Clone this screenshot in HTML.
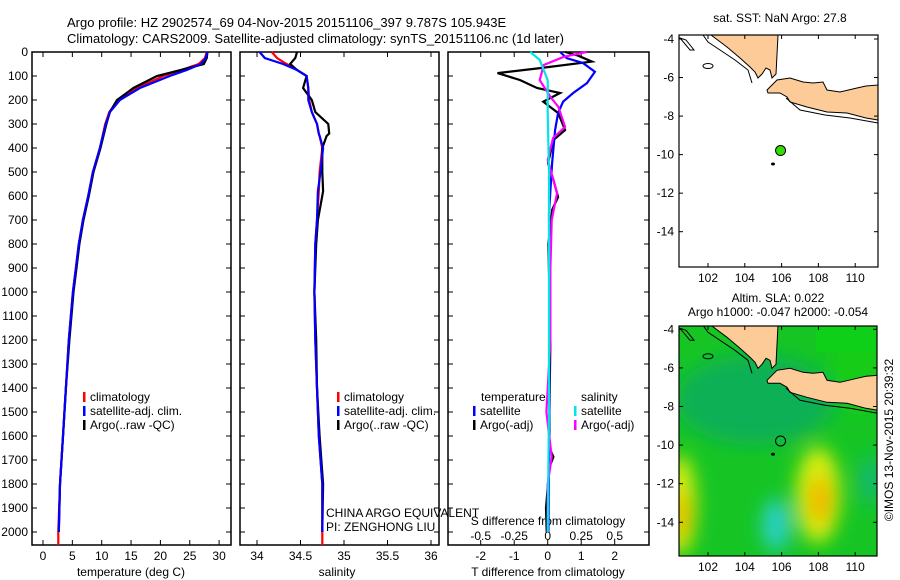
<!DOCTYPE html>
<html><head><meta charset="utf-8"><style>
html,body{margin:0;padding:0;background:#fff;}
svg{display:block;font-family:"Liberation Sans",sans-serif;}
</style></head><body>
<svg id="fig" width="900" height="580" viewBox="0 0 900 580" xmlns="http://www.w3.org/2000/svg">
<defs>
<filter id="blur" x="-50%" y="-50%" width="200%" height="200%"><feGaussianBlur stdDeviation="9"/></filter>
<clipPath id="clipMap2"><rect x="679" y="326" width="198" height="230"/></clipPath>
<clipPath id="clipMap1"><rect x="679" y="35" width="199" height="232"/></clipPath>
</defs>
<text x="67" y="27" font-size="13">Argo profile: HZ 2902574_69 04-Nov-2015 20151106_397 9.787S 105.943E</text>
<text x="67" y="43" font-size="13">Climatology: CARS2009. Satellite-adjusted climatology: synTS_20151106.nc (1d later)</text>
<g id="g"></g>
</svg>
<script>
// ---------- data ----------
const tDepth = [0,25,50,75,100,150,200,250,300,400,500,600,700,800,900,1000,1200,1400,1600,1800,2000];
const tClim  = [27.9,27.6,26.5,23.6,20.5,16.0,12.9,11.3,10.6,9.7,8.5,7.7,6.8,6.1,5.6,5.1,4.4,3.9,3.4,2.9,2.6];
const tSat   = [28.0,27.7,26.9,24.5,21.6,16.5,13.1,11.4,10.7,9.7,8.5,7.7,6.8,6.1,5.6,5.1,4.4,3.9,3.4,2.9,2.7];
const tArgo  = [28.0,27.9,27.4,23.5,19.4,15.4,12.6,11.4,10.8,9.8,8.6,7.8,6.9,6.2,5.7,5.2,4.5,3.9,3.4,2.9,2.7];
const tClimDeep = 2054;
const sDepth = [0,25,50,75,100,150,200,250,300,340,350,400,500,580,700,800,1000,1200,1400,1600,1800,2000];
const sClim  = [34.17,34.23,34.34,34.46,34.57,34.59,34.60,34.63,34.69,34.71,34.72,34.75,34.72,34.71,34.69,34.67,34.66,34.67,34.69,34.71,34.75,34.75];
const sSat   = [34.03,34.09,34.30,34.46,34.57,34.59,34.59,34.63,34.69,34.71,34.72,34.76,34.73,34.70,34.69,34.67,34.66,34.67,34.69,34.71,34.75,34.75];
const sArgo  = [34.46,34.44,34.38,34.46,34.57,34.53,34.63,34.67,34.82,34.83,34.80,34.75,34.75,34.76,34.70,34.68,34.66,34.68,34.69,34.72,34.76,34.75];
const dtSatDepth = [0,26,46,82,130,171,207,254,325,463,671,1000,1500,2000];
const dtSat      = [0.37,0.57,1.05,1.41,1.17,0.76,0.46,0.31,0.22,0.13,0.04,0.05,0.05,0.02];
const dtArgoDepth = [0,15,40,67,88,117,150,171,207,254,325,367,463,533,604,658,800,1000,1200,1500,1650,1687,1730,1900,2000];
const dtArgo      = [0.52,0.9,1.32,-0.23,-1.5,-0.82,-0.32,0.37,-0.13,0.31,0.52,0.17,0.01,0.17,0.31,0.13,0.02,0.05,0.08,0.05,0.05,0.17,0.05,-0.05,-0.03];
const dsArgoDepth = [0,20,54,117,187,229,312,358,450,588,700,900,1200,1500,1687,1800,2000];
const dsArgo      = [0.29,0.12,-0.03,-0.06,0.02,0.08,0.13,0.04,0.0,0.07,0.03,0.02,0.02,-0.01,0.03,0.0,0.0];
const dsSatDepth = [0,33,117,250,500,1000,1500,2000];
const dsSat      = [-0.13,-0.06,0.0,0.0,0.01,0.01,0.01,0.0];
const depthTicks = [0,100,200,300,400,500,600,700,800,900,1000,1100,1200,1300,1400,1500,1600,1700,1800,1900,2000];
const tTicks = [0,5,10,15,20,25,30];
const sTicks = [34,34.5,35,35.5,36];
const dTTicks = [-2,-1,0,1,2];
const dSTicks = [-0.5,-0.25,0,0.25,0.5];
const latTicks = [-4,-6,-8,-10,-12,-14];
const lonTicks = [102,104,106,108,110];
const argoLon = 105.943, argoLat = -9.787;

// ---------- helpers ----------
const NS="http://www.w3.org/2000/svg";
const G=document.getElementById('g');
function el(tag,attrs,parent){const e=document.createElementNS(NS,tag);for(const k in attrs)e.setAttribute(k,attrs[k]);(parent||G).appendChild(e);return e;}
function txt(x,y,s,anchor,size,parent){const t=el('text',{x:x,y:y,'font-size':size||12,'text-anchor':anchor||'start'},parent);t.textContent=s;return t;}
const TOP=52, BOT=545;
const yD = d => 52 + d*0.24;
const xT = v => 43 + v*5.87;
const xS = v => 257 + (v-34)*87;
const xDT = v => 547.7 + v*33.5;
const xDS = v => 547.7 + v*134;
const lonX = l => 708 + (l-102)*18.4;
const latY1 = a => 39 + (-4-a)*19.27;
const latY2 = a => 329.3 + (-4-a)*19.3;

function panel(x0,x1,name){
  const r=el('rect',{x:x0,y:TOP,width:x1-x0,height:BOT-TOP,fill:'none',stroke:'#000','stroke-width':1.5});
  
  
  depthTicks.forEach(d=>{
    el('line',{x1:x0,x2:x0+5,y1:yD(d),y2:yD(d),stroke:'#000'});
    el('line',{x1:x1-5,x2:x1,y1:yD(d),y2:yD(d),stroke:'#000'});
  });
}
function xticks(vals,fx,x0,x1,labelY,labels){
  vals.forEach((v,i)=>{
    const x=fx(v);
    el('line',{x1:x,x2:x,y1:TOP,y2:TOP+5,stroke:'#000'});
    el('line',{x1:x,x2:x,y1:BOT-5,y2:BOT,stroke:'#000'});
    if(labelY){const t=txt(x,labelY,labels?labels[i]:String(v),'middle',12);
      
      }
  });
}
function line(depths,vals,fx,color,name,w){
  const pts=depths.map((d,i)=>fx(vals[i]).toFixed(1)+','+yD(d).toFixed(1)).join(' ');
  const p=el('polyline',{points:pts,fill:'none',stroke:color,'stroke-width':w||2.2,'stroke-linejoin':'miter'});
  
  
}
function legend(x,y,color,label){
  el('rect',{x:x,y:y-9,width:2.5,height:10,fill:color});
  const t=txt(x+7,y,label,'start',12);
  
  
}

// ---------- panel 1: temperature ----------
panel(32,231,'temperature-panel');
depthTicks.forEach(d=>{const t=txt(28,yD(d)+4,String(d),'end',12);
  
  });
xticks(tTicks,xT,32,231,560);
let t1=txt(131,576,'temperature (deg C)','middle',12);


line(tDepth.concat([tClimDeep]),tClim.concat([tClim[tClim.length-1]]),xT,'#ff0000','temperature-climatology-line');
line(tDepth,tArgo,xT,'#000','temperature-argo-line');
line(tDepth,tSat,xT,'#0000ff','temperature-satellite-line');
legend(83,401,'#ff0000','climatology');
legend(83,415,'#0000ff','satellite-adj. clim.');
legend(83,429,'#000','Argo(..raw -QC)');

// ---------- panel 2: salinity ----------
panel(240,439,'salinity-panel');
xticks(sTicks,xS,240,439,560);
let t2=txt(337,576,'salinity','middle',12);


line(sDepth.concat([tClimDeep]),sClim.concat([sClim[sClim.length-1]]),xS,'#ff0000','salinity-climatology-line');
line(sDepth,sArgo,xS,'#000','salinity-argo-line');
line(sDepth,sSat,xS,'#0000ff','salinity-satellite-line');
legend(337,401,'#ff0000','climatology');
legend(337,415,'#0000ff','satellite-adj. clim.');
legend(337,429,'#000','Argo(..raw -QC)');
let c1=txt(326,517,'CHINA ARGO EQUIVALENT','start',12);


let c2=txt(326,531,'PI: ZENGHONG LIU','start',12);



// ---------- panel 3: differences ----------
panel(448,649,'difference-panel');
xticks(dTTicks,xDT,448,649,560);
dSTicks.forEach(v=>{const t=txt(xDS(v),540,String(v),'middle',12);
  
  });
let t3=txt(548,525,'S difference from climatology','middle',12);


let t4=txt(548,576,'T difference from climatology','middle',12);


line(dtArgoDepth,dtArgo,xDT,'#000','t-diff-argo-line');
line(dtSatDepth,dtSat,xDT,'#0000ff','t-diff-satellite-line');
line(dsArgoDepth,dsArgo,xDS,'#ff00ff','s-diff-argo-line');
line(dsSatDepth,dsSat,xDS,'#00e5e5','s-diff-satellite-line');
let lt=txt(481,401,'temperature','start',12);


let ls=txt(581,401,'salinity','start',12);


legend(473,415,'#0000ff','satellite');
legend(473,429,'#000','Argo(-adj)');
legend(574,415,'#00e5e5','satellite');
legend(574,429,'#ff00ff','Argo(-adj)');

// ---------- maps ----------
const sumatra=[[711,35],[727,47],[740,58],[750,67],[755,72],[758,78],[762,74],[766,68],[770,70],[772,78],[776,74],[778,35]];
const java=[[767,90],[777,80],[790,78],[803,82],[813,83],[823,82],[827,90],[840,92],[857,88],[866,86],[878,85],[878,120],[866,118],[847,113],[827,112],[807,107],[790,102],[787,97],[780,93],[768,93]];
const offshore=[[703,35],[708,42],[720,50],[735,60],[748,70],[752,83]];
const javaOff=[[786,98],[800,110],[825,115],[850,118],[878,123]];
function mapFrame(x0,y0,w,h,latY,name,bg){
  const g=el('g',{});
  
  
  return g;
}
function drawLand(g,dy){
  const poly=(pts)=>pts.map(p=>p[0]+','+(p[1]+dy)).join(' ');
  const s=el('polygon',{points:poly(sumatra),fill:'#fccb97',stroke:'#000','stroke-width':1},g);
  
  
  const j=el('polygon',{points:poly(java),fill:'#fccb97',stroke:'#000','stroke-width':1},g);
  
  
  el('polyline',{points:poly(offshore),fill:'none',stroke:'#000','stroke-width':1},g);
  el('polyline',{points:poly(javaOff),fill:'none',stroke:'#000','stroke-width':1},g);
  el('ellipse',{cx:708,cy:66+dy,rx:5,ry:2.5,fill:'none',stroke:'#000'},g);
  el('polygon',{points:poly([[680,38],[686,40],[694,50],[690,50]]),fill:'none',stroke:'#000'},g);
  el('ellipse',{cx:773,cy:164+dy,rx:2,ry:1.5,fill:'#000'},g);
}
function mapAxes(x0,y0,w,h,latY,name){
  const r=el('rect',{x:x0,y:y0,width:w,height:h,fill:'none',stroke:'#000','stroke-width':1.2});
  
  
  latTicks.forEach(a=>{const y=latY(a);
    el('line',{x1:x0,x2:x0+4,y1:y,y2:y,stroke:'#000'});
    el('line',{x1:x0+w-4,x2:x0+w,y1:y,y2:y,stroke:'#000'});
    const t=txt(x0-5,y+4,String(a),'end',12);
    
    });
  lonTicks.forEach(l=>{const x=lonX(l);
    el('line',{x1:x,x2:x,y1:y0,y2:y0+4,stroke:'#000'});
    el('line',{x1:x,x2:x,y1:y0+h-4,y2:y0+h,stroke:'#000'});
    const t=txt(x,y0+h+15,String(l),'middle',12);
    
    });
}
// top map
const m1=mapFrame(679,35,199,232,latY1,'sst-map');
drawLand(m1,0);
const dot=el('circle',{cx:lonX(argoLon),cy:latY1(argoLat),r:5,fill:'#33dd00',stroke:'#000','stroke-width':1});


mapAxes(679,35,199,232,latY1,'sst-map-frame');
let mt=txt(780,22,'sat. SST: NaN Argo: 27.8','middle',12);



// bottom map (SLA)
const m2=el('g',{'clip-path':'url(#clipMap2)'});


el('rect',{x:679,y:326,width:198,height:230,fill:'#16c524'},m2);
const blobs=el('g',{filter:'url(#blur)'},m2);
el('ellipse',{cx:755,cy:400,rx:80,ry:45,fill:'#10b055'},blobs);
el('ellipse',{cx:860,cy:370,rx:30,ry:40,fill:'#12cc18'},blobs);
el('ellipse',{cx:818,cy:495,rx:22,ry:48,fill:'#d8ee10'},blobs);
el('ellipse',{cx:820,cy:500,rx:11,ry:24,fill:'#f2b300'},blobs);
el('ellipse',{cx:680,cy:505,rx:16,ry:50,fill:'#d8ee10'},blobs);
el('ellipse',{cx:681,cy:515,rx:8,ry:24,fill:'#f2b300'},blobs);
el('ellipse',{cx:776,cy:525,rx:14,ry:26,fill:'#2ad0c8'},blobs);
el('ellipse',{cx:870,cy:480,rx:10,ry:25,fill:'#12b878'},blobs);
el('rect',{x:816,y:326,width:62,height:26,fill:'#0fd018'},m2);
drawLand(m2,290.3);
el('circle',{cx:lonX(argoLon),cy:latY2(argoLat),r:5,fill:'none',stroke:'#000','stroke-width':1},m2);
mapAxes(679,326,198,230,latY2,'sla-map-frame');
let s1=txt(778,302,'Altim. SLA: 0.022','middle',12);


let s2=txt(778,316,'Argo h1000: -0.047 h2000: -0.054','middle',12);


let cp=txt(0,0,'©IMOS 13-Nov-2015 20:39:32','middle',12);
cp.setAttribute('transform','translate(893,440) rotate(-90)');


</script>
</body></html>
